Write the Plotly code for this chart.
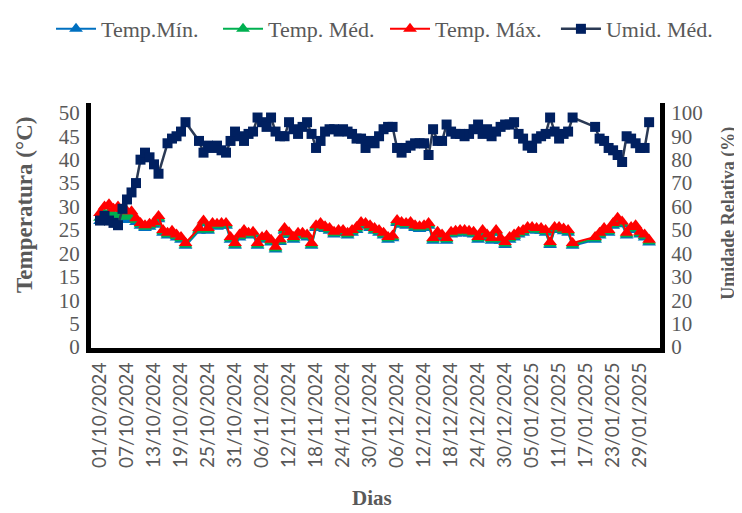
import pandas as pd
import plotly.graph_objects as go

start_date = "2024-10-01"
end_date = "2025-01-31"
dates = pd.date_range(start_date, end_date, freq="D")

temp_max = [28.6, 30.0, 30.5, 29.5, 30.0, 29.5, 29.0, 29.0, 27.5, 26.5,
            26.0, 26.3, 26.7, 28.0, 25.0, 24.4, 24.8, 24.0, 23.5, 22.2,
            None, None, 25.4, 27.0, 25.4, 26.5, 26.3, 26.5, 26.5, 23.5,
            22.2, 24.0, 25.0, 24.4, 24.6, 22.2, 23.5, 23.8, 22.9, 21.4,
            23.0, 25.4, 24.5, 23.5, 24.4, 24.4, 24.0, 22.2, 26.0, 26.5,
            25.8, 25.4, 24.6, 25.0, 25.0, 24.4, 25.0, 25.6, 26.7, 26.5,
            26.0, 25.4, 25.0, 24.4, 23.5, 23.8, 27.1, 26.7, 26.5, 26.7,
            26.0, 25.8, 26.0, 26.5, 23.3, 24.6, 24.0, 23.3, 24.6, 24.8,
            25.0, 25.0, 24.8, 24.6, 23.5, 25.0, 24.0, 23.3, 25.0, 23.3,
            22.4, 23.5, 24.0, 24.6, 25.0, 25.6, 25.6, 25.4, 25.4, 25.0,
            22.4, 25.6, 25.6, 25.3, 25.0, 22.2, None, None, None, None,
            23.5, 24.4, 25.4, 25.0, 26.5, 27.6, 26.8, 24.4, 25.6, 26.0,
            24.6, 24.0, 22.9]

temp_med = [27.6, 28.4, 28.7, 28.2, 28.3, 28.0, 27.8, 28.0, 27.1, 26.2,
            25.7, 26.0, 26.4, 27.6, 24.7, 24.1, 24.5, 23.7, 23.2, 21.9,
            None, None, 25.1, 26.7, 25.1, 26.2, 26.0, 26.2, 26.2, 23.2,
            21.9, 23.7, 24.7, 24.1, 24.3, 21.9, 23.2, 23.5, 22.6, 21.1,
            22.7, 25.1, 24.2, 23.2, 24.1, 24.1, 23.7, 21.9, 25.7, 26.2,
            25.5, 25.1, 24.3, 24.7, 24.7, 24.1, 24.7, 25.3, 26.4, 26.2,
            25.7, 25.1, 24.7, 24.1, 23.2, 23.5, 26.8, 26.4, 26.2, 26.4,
            25.7, 25.5, 25.7, 26.2, 23.0, 24.3, 23.7, 23.0, 24.3, 24.5,
            24.7, 24.7, 24.5, 24.3, 23.2, 24.7, 23.7, 23.0, 24.7, 23.0,
            22.1, 23.2, 23.7, 24.3, 24.7, 25.3, 25.3, 25.1, 25.1, 24.7,
            22.1, 25.3, 25.3, 25.0, 24.7, 21.9, None, None, None, None,
            23.2, 24.1, 25.1, 24.7, 26.2, 27.3, 26.5, 24.1, 25.3, 25.7,
            24.3, 23.7, 22.6]

temp_min = [26.9, 27.5, 27.8, 27.4, 27.5, 27.2, 27.1, 27.3, 26.7, 25.9,
            25.4, 25.7, 26.1, 27.3, 24.4, 23.8, 24.2, 23.4, 22.9, 21.6,
            None, None, 24.8, 26.4, 24.8, 25.9, 25.7, 25.9, 25.9, 22.9,
            21.6, 23.4, 24.4, 23.8, 24.0, 21.6, 22.9, 23.2, 22.3, 20.8,
            22.4, 24.8, 23.9, 22.9, 23.8, 23.8, 23.4, 21.6, 25.4, 25.9,
            25.2, 24.8, 24.0, 24.4, 24.4, 23.8, 24.4, 25.0, 26.1, 25.9,
            25.4, 24.8, 24.4, 23.8, 22.9, 23.2, 26.5, 26.1, 25.9, 26.1,
            25.4, 25.2, 25.4, 25.9, 22.7, 24.0, 23.4, 22.7, 24.0, 24.2,
            24.4, 24.4, 24.2, 24.0, 22.9, 24.4, 23.4, 22.7, 24.4, 22.7,
            21.8, 22.9, 23.4, 24.0, 24.4, 25.0, 25.0, 24.8, 24.8, 24.4,
            21.8, 25.0, 25.0, 24.7, 24.4, 21.6, None, None, None, None,
            22.9, 23.8, 24.8, 24.4, 25.9, 27.0, 26.2, 23.8, 25.0, 25.4,
            24.0, 23.4, 22.3]

umid_med = [54, 56, 54, 53, 52, 59, 63, 66, 70, 80,
            83, 81, 78, 74, None, 87, 89, 90, 92, 96,
            None, None, 88, 83, 86, 85, 86, 84, 83, 88,
            92,
            90, 88, 91, 92, 98, 96, 94, 98, 92, 90,
            90, 96, 93, 91, 94, 96, 91, 85, 88, 92,
            93, 93, 92, 93, 92, 91, 89, 89, 85, 88,
            87, 90, 93, 94, 94, 85, 83, 85, 86, 87,
            87, 87, 82, 93, 88, 88, 95, 92, 91, 91,
            90, 91, 93, 95, 91, 93, 90, 92, 94, 95,
            95, 96, 91, 89, 86, 85, 89, 90, 91, 98,
            92, 89, 91, 92, 98, None, None, None, None, 94,
            89, 88, 85, 84, 82, 79, 90, 89, 87, 85,
            85, 96]

series_names = ["Temp.Mín.", "Temp. Méd.", "Temp. Máx.", "Umid. Méd."]
temp_left_ticks = list(range(0, 51, 5))
umid_right_ticks = list(range(0, 101, 10))

GRAY = "#595959"
SERIF = "Liberation Serif"

fig = go.Figure()
for name, vals, col in [(series_names[0], temp_min, "#0070C0"),
                        (series_names[1], temp_med, "#00B050"),
                        (series_names[2], temp_max, "#FF0000")]:
    fig.add_trace(go.Scatter(
        x=dates, y=vals, name=name, mode="lines+markers", connectgaps=True,
        line=dict(color=col, width=2),
        marker=dict(symbol="triangle-up", size=12, color=col),
        legend="legend",
    ))

fig.add_trace(go.Scatter(
    x=dates, y=umid_med, name=series_names[3], mode="lines+markers",
    connectgaps=True, yaxis="y2",
    line=dict(color="#2B3A55", width=2.5),
    marker=dict(symbol="square", size=10, color="#002060"),
    legend="legend2",
))

legend_common = dict(orientation="h", xref="container", yref="container",
                     xanchor="left", y=1.0, yanchor="top",
                     font=dict(family=SERIF, size=22, color=GRAY),
                     entrywidth=112, entrywidthmode="pixels",
                     itemwidth=40, tracegroupgap=0, traceorder="normal",
                     bgcolor="rgba(0,0,0,0)")

fig.update_layout(
    width=734, height=505,
    paper_bgcolor="white", plot_bgcolor="white",
    margin=dict(l=83, r=82, t=95, b=165),
    font=dict(family=SERIF, color=GRAY, size=18),
    showlegend=True,
    legend=dict(legend_common, x=0.0586),
    legend2=dict(legend_common, x=0.7465),
    xaxis=dict(
        type="date",
        range=["2024-09-29 00:00", "2025-02-02 10:00"],
        tick0="2024-10-01", dtick=6 * 86400000,
        tickformat="%d/%m/%Y", tickangle=-90,
        tickfont=dict(family="Lato", size=19, color=GRAY),
        showgrid=False, zeroline=False, ticks="",
        showline=True, linecolor="black", linewidth=5,
        ticklabelstandoff=2,
    ),
    yaxis=dict(
        range=[-0.21, 52.1], tickvals=temp_left_ticks,
        showgrid=False, zeroline=False, ticks="",
        showline=True, linecolor="black", linewidth=5,
        tickfont=dict(family=SERIF, size=21, color=GRAY),
        ticklabelstandoff=2,
    ),
    yaxis2=dict(
        range=[-0.43, 104.2], tickvals=umid_right_ticks,
        overlaying="y", side="right",
        showgrid=False, zeroline=False, ticks="",
        showline=True, linecolor="black", linewidth=5,
        tickfont=dict(family=SERIF, size=21, color=GRAY),
        ticklabelstandoff=2,
    ),
    annotations=[
        dict(text="<b>Temperatura (°C)</b>", xref="paper", yref="paper",
             x=-0.116, y=0.584, xanchor="center", yanchor="middle",
             textangle=-90, showarrow=False,
             font=dict(family=SERIF, size=23, color=GRAY)),
        dict(text="<b>Umidade Relativa (%)</b>", xref="paper", yref="paper",
             x=1.119, y=0.551, xanchor="center", yanchor="middle",
             textangle=-90, showarrow=False,
             font=dict(family=SERIF, size=18, color=GRAY)),
        dict(text="<b>Dias</b>", xref="paper", yref="paper",
             x=0.494, y=-0.612, xanchor="center", yanchor="middle",
             showarrow=False,
             font=dict(family=SERIF, size=21, color=GRAY)),
    ],
)

fig.write_html("out.html")
